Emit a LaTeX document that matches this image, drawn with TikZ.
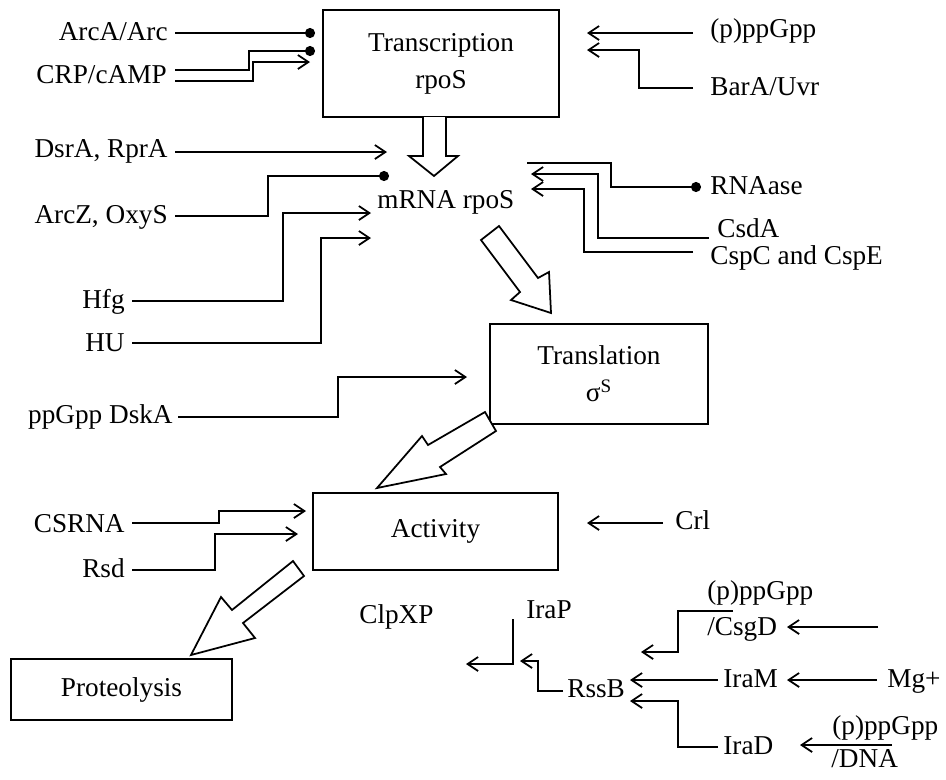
\documentclass[tikz,border=0pt]{standalone}
\usepackage{fontspec}
\setmainfont{Liberation Serif}
\usetikzlibrary{arrows.meta}
\begin{document}
\begin{tikzpicture}[x=0.02cm,y=-0.02cm,
  every node/.style={font=\fontsize{15.5}{21}\selectfont, inner sep=0pt},
  box/.style={draw, line width=1.1pt, align=center, inner sep=0pt},
  ln/.style={line width=1pt, line join=miter},
  act/.style={ln, -{Straight Barb[length=6pt,width=8pt]}},
  inh/.style={ln, -{Circle[length=5.7pt]}},
  fat/.style={draw, line width=1pt, fill=white, line join=miter}]
\useasboundingbox (0,0) rectangle (946,779);

% ---- boxes
\node[box, minimum width=4.72cm, minimum height=2.14cm] (tr) at (441,63.5) {Transcription\\rpoS};
\node[box, minimum width=4.36cm, minimum height=2cm] (tl) at (599,374) {Translation\\σ\textsuperscript{S}};
\node[box, minimum width=4.9cm, minimum height=1.54cm] (ac) at (435.5,531.5) {Activity};
\node[box, minimum width=4.42cm, minimum height=1.22cm] (pr) at (121.5,689.5) {Proteolysis};
\node[anchor=base west] (mrna) at (377,208) {mRNA rpoS};
\node[anchor=base west] (clp) at (359,623) {ClpXP};

% ---- hollow arrows
\draw[fat] (423,117) -- (423,156) -- (409,156) -- (434,176) -- (458,156) -- (446,156) -- (446,117);
\draw[fat] (499,226) -- (481,240) -- (520,292) -- (511,300) -- (551,313) -- (549,272) -- (538,278) -- cycle;
\draw[fat] (485,412) -- (428,445) -- (422,436) -- (377,488) -- (446,474) -- (440,467) -- (496,431) -- cycle;
\draw[fat] (293,561) -- (232,610) -- (221,597) -- (191,655) -- (255,638) -- (243,623) -- (304,576) -- cycle;

% ---- left labels
\node[anchor=base east] (arca) at (168,40) {ArcA/Arc};
\node[anchor=base east] (crp) at (167,83) {CRP/cAMP};
\node[anchor=base east] (dsra) at (168,157) {DsrA, RprA};
\node[anchor=base east] (arcz) at (168,223) {ArcZ, OxyS};
\node[anchor=base east] (hfg) at (125,308) {Hfg};
\node[anchor=base east] (hu) at (125,351) {HU};
\node[anchor=base east] (dska) at (173,423) {ppGpp DskA};
\node[anchor=base east] (csrna) at (125,532) {CSRNA};
\node[anchor=base east] (rsd) at (125,577) {Rsd};

% ---- right labels
\node[anchor=base west] (ppg1) at (710,37) {(p)ppGpp};
\node[anchor=base west] (bara) at (710,95) {BarA/Uvr};
\node[anchor=base west] (rnase) at (710,194) {RNAase};
\node[anchor=base west] (csda) at (717,237) {CsdA};
\node[anchor=base west] (cspc) at (710,264) {CspC and CspE};
\node[anchor=base west] (crl) at (675,529) {Crl};

% ---- bottom right labels
\node[anchor=base west] (irap) at (526,618) {IraP};
\node[anchor=base west] (rssb) at (567,697) {RssB};
\node[anchor=base west] (iram) at (723,687) {IraM};
\node[anchor=base west] (irad) at (723,754) {IraD};
\node[anchor=base west] (mg) at (887,687) {Mg+};
\node[anchor=base west] (ppg2) at (707,599) {(p)ppGpp};
\node[anchor=base west] (csgd) at (707,635) {/CsgD};
\node[anchor=base west] (ppg3) at (832,734) {(p)ppGpp};
\node[anchor=base west] (dna) at (831,767) {/DNA};

% ---- connector end points
\coordinate (arcaS) at (175,33);   \coordinate (arcaE) at (315,33);
\coordinate (crpS1) at (175,70);   \coordinate (crpE1) at (315,51);
\coordinate (crpS2) at (175,81);   \coordinate (crpE2) at (310,62);
\coordinate (dsraS) at (175,152);  \coordinate (dsraE) at (387,152);
\coordinate (arczS) at (175,216);  \coordinate (arczE) at (389,176);
\coordinate (hfgS) at (132,301);   \coordinate (hfgE) at (371,213);
\coordinate (huS) at (132,343);    \coordinate (huE) at (371,238);
\coordinate (dskaS) at (178,417);  \coordinate (dskaE) at (467,377);
\coordinate (csrS) at (132,523);   \coordinate (csrE) at (306,511);
\coordinate (rsdS) at (132,570);   \coordinate (rsdE) at (298,534);
\coordinate (ppg1S) at (693,33);   \coordinate (ppg1E) at (587,33);
\coordinate (baraS) at (693,88);   \coordinate (baraE) at (587,50);
\coordinate (rnaS) at (527,163);   \coordinate (rnaE) at (701,187);
\coordinate (csdaS) at (709,238);  \coordinate (csdaE) at (531,174);
\coordinate (cspS) at (693,252);   \coordinate (cspE) at (531,189);
\coordinate (crlS) at (663,523);   \coordinate (crlE) at (587,523);
\coordinate (irapS) at (513,619);  \coordinate (irapE) at (466,664);
\coordinate (rssbS) at (563,691);  \coordinate (rssbE) at (520,661);
\coordinate (ppg2S) at (733,611);  \coordinate (ppg2E) at (641,652);
\coordinate (iramS) at (718,680);  \coordinate (iramE) at (630,680);
\coordinate (iradS) at (718,747);  \coordinate (iradE) at (630,701);
\coordinate (csgdS) at (878,627);  \coordinate (csgdE) at (787,627);
\coordinate (mgS) at (877,680);    \coordinate (mgE) at (787,680);
\coordinate (dnaS) at (892,745);   \coordinate (dnaE) at (800,745);

% ---- connectors
\draw[inh] (arcaS) -- (arcaE);
\draw[inh] (crpS1) -| (249,51) -- (crpE1);
\draw[act] (crpS2) -| (253,62) -- (crpE2);
\draw[act] (dsraS) -- (dsraE);
\draw[inh] (arczS) -| (268,176) -- (arczE);
\draw[act] (hfgS) -| (283,213) -- (hfgE);
\draw[act] (huS) -| (321,238) -- (huE);
\draw[act] (dskaS) -| (338,377) -- (dskaE);
\draw[act] (csrS) -| (219,511) -- (csrE);
\draw[act] (rsdS) -| (215,534) -- (rsdE);

\draw[act] (ppg1S) -- (ppg1E);
\draw[act] (baraS) -| (639,50) -- (baraE);
\draw[inh] (rnaS) -| (611,187) -- (rnaE);
\draw[act] (csdaS) -| (598,174) -- (csdaE);
\draw[act] (cspS) -| (584,189) -- (cspE);
\draw[act] (crlS) -- (crlE);

\draw[act] (irapS) |- (irapE);
\draw[act] (rssbS) -| (538,661) -- (rssbE);
\draw[act] (ppg2S) -| (678,652) -- (ppg2E);
\draw[act] (iramS) -- (iramE);
\draw[act] (iradS) -| (678,701) -- (iradE);
\draw[act] (csgdS) -- (csgdE);
\draw[act] (mgS) -- (mgE);
\draw[act] (dnaS) -- (dnaE);
\end{tikzpicture}
\end{document}
